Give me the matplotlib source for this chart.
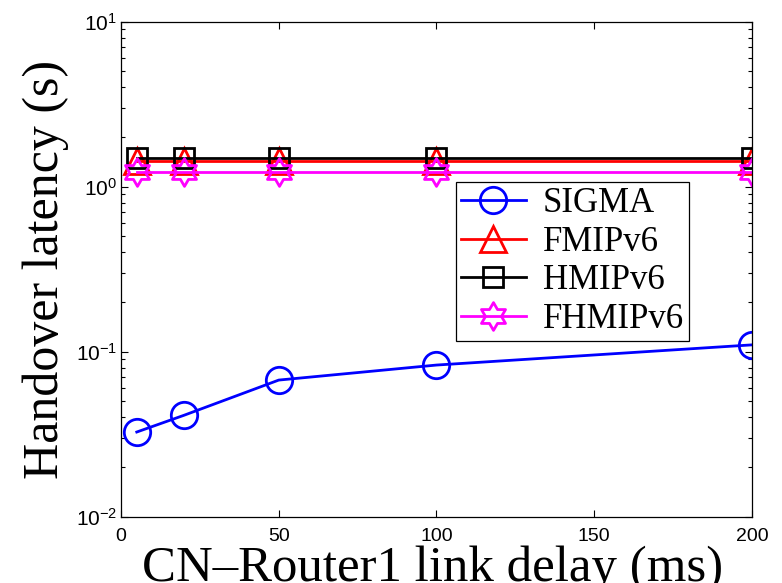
import numpy as np
import matplotlib
matplotlib.use('Agg')
import matplotlib.pyplot as plt
from matplotlib.path import Path
from matplotlib.ticker import LogLocator, FixedLocator

# link delay between CN and Router1 (ms)
delay = [5, 20, 50, 100, 200]

# handover latency (s) for each scheme
sigma = [0.0326, 0.0412, 0.0673, 0.083, 0.110]
fmipv6 = [1.44, 1.44, 1.44, 1.44, 1.44]
hmipv6 = [1.49, 1.49, 1.49, 1.49, 1.49]
fhmipv6 = [1.22, 1.22, 1.22, 1.22, 1.22]

labels = ['SIGMA', 'FMIPv6', 'HMIPv6', 'FHMIPv6']
xticks = [0, 50, 100, 150, 200]

plt.rcParams['font.family'] = 'Liberation Sans'
plt.rcParams['mathtext.default'] = 'regular'

serif = 'Liberation Serif'
hexagram = Path.unit_regular_star(6, 1/np.sqrt(3))

fig = plt.figure(figsize=(7.82, 5.83), dpi=100)
ax = fig.add_axes([121/782, 1-516.7/583, 631/782, 495/583])

lw = 2.0
mew = 2.0
ax.plot(delay, sigma, color='#0000ff', lw=lw, marker='o', ms=19,
        mfc='none', mew=mew, label=labels[0])
ax.plot(delay, fmipv6, color='#ff0000', lw=lw, marker='^', ms=19,
        mfc='none', mew=mew, label=labels[1])
ax.plot(delay, hmipv6, color='#000000', lw=lw, marker='s', ms=15,
        mfc='none', mew=mew, label=labels[2])
ax.plot(delay, fhmipv6, color='#ff00ff', lw=lw, marker=hexagram, ms=20,
        mfc='none', mew=mew, label=labels[3])

ax.set_yscale('log')
ax.set_ylim(1e-2, 1e1)
ax.set_xlim(0, 200)
ax.xaxis.set_major_locator(FixedLocator(xticks))
ax.yaxis.set_major_locator(LogLocator(base=10, numticks=10))
ax.yaxis.set_minor_locator(LogLocator(base=10, subs=np.arange(2, 10), numticks=10))

ax.tick_params(which='both', direction='in', top=True, right=True, width=0.8)
ax.tick_params(axis='x', labelsize=14, pad=8)
ax.tick_params(axis='y', labelsize=15, pad=3)
ax.tick_params(which='major', length=5)
ax.tick_params(which='minor', length=3)
for s in ax.spines.values():
    s.set_linewidth(0.9)

ax.set_xlabel('CN\u2013Router1 link delay (ms)', fontfamily=serif, fontsize=36.6)
ax.set_ylabel('Handover latency (s)', fontfamily=serif, fontsize=36)
ax.xaxis.set_label_coords(0.494, -0.059)
ax.yaxis.set_label_coords(-0.082, 0.5)

leg = ax.legend(loc='upper left', bbox_to_anchor=(0.531, 0.676),
                prop={'family': serif, 'size': 25}, fancybox=False,
                edgecolor='black', framealpha=1, borderpad=0.15,
                labelspacing=0.16, handlelength=1.85, handletextpad=0.5,
                borderaxespad=0)
leg.get_frame().set_linewidth(0.9)

fig.savefig('out.png', dpi=100)
